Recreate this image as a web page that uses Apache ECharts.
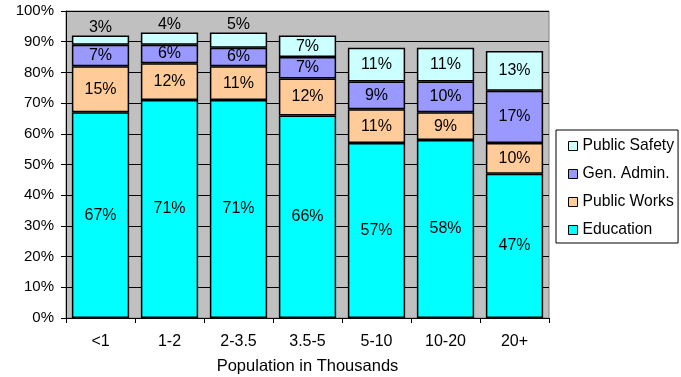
<!DOCTYPE html>
<html>
<head>
<meta charset="utf-8">
<script src="https://cdn.jsdelivr.net/npm/echarts@6/dist/echarts.min.js"></script>
<style>html,body{margin:0;padding:0;background:#fff}#c{width:681px;height:377px}</style>
</head>
<body>
<div id="c"></div>
<script>
var categories = ['<1', '1-2', '2-3.5', '3.5-5', '5-10', '10-20', '20+'];
var education = [67, 71, 71, 66, 57, 58, 47];
var publicWorks = [15, 12, 11, 12, 11, 9, 10];
var genAdmin = [7, 6, 6, 7, 9, 10, 17];
var publicSafety = [3, 4, 5, 7, 11, 11, 13];
var seriesNames = ['Education', 'Public Works', 'Gen. Admin.', 'Public Safety'];
var seriesColors = ['#00ffff', '#ffcc99', '#9999ff', '#ccffff'];
var FONT = 'Liberation Sans';

function makeSeries(name, data, color, smallTop) {
  return {
    name: name,
    type: 'bar',
    stack: 'total',
    barCategoryGap: '17%',
    itemStyle: { color: color, borderColor: '#000', borderWidth: 1.5 },
    label: {
      show: true, position: 'inside', color: '#000', fontSize: 16, fontFamily: FONT,
      formatter: function (p) { return p.value + '%'; }
    },
    data: data.map(function (v) {
      if (smallTop && v <= 5) {
        return { value: v, label: { position: 'top', distance: 0 } };
      }
      return v;
    })
  };
}

var chart = echarts.init(document.getElementById('c'), null, { renderer: 'canvas' });
chart.setOption({
  animation: false,
  textStyle: { fontFamily: FONT },
  grid: {
    left: 66, right: 132, top: 11, bottom: 59,
    containLabel: false, outerBoundsMode: 'none',
    show: true, backgroundColor: '#c0c0c0', borderColor: '#808080', borderWidth: 1
  },
  legend: {
    orient: 'vertical', left: 556, top: 130,
    padding: [8, 4, 5, 12], itemGap: 12,
    borderColor: '#000', borderWidth: 1, backgroundColor: '#fff',
    itemWidth: 9, itemHeight: 9, icon: 'rect',
    itemStyle: { borderColor: '#000', borderWidth: 1 },
    textStyle: { fontSize: 15.7, color: '#000', fontFamily: FONT },
    data: ['Public Safety', 'Gen. Admin.', 'Public Works', 'Education']
  },
  xAxis: {
    type: 'category', data: categories,
    name: 'Population in Thousands', nameLocation: 'middle', nameGap: 40,
    nameTextStyle: { fontSize: 16.5, color: '#000', fontFamily: FONT },
    axisLine: { lineStyle: { color: '#000', width: 1 } },
    axisTick: { show: true, length: 5, lineStyle: { color: '#000' } },
    axisLabel: { fontSize: 16, color: '#000', margin: 16, fontFamily: FONT }
  },
  yAxis: {
    type: 'value', min: 0, max: 100, interval: 10,
    axisLine: { show: true, lineStyle: { color: '#000', width: 1 } },
    axisTick: { show: true, length: 5, lineStyle: { color: '#000' } },
    axisLabel: { fontSize: 15, color: '#000', margin: 12, fontFamily: FONT, formatter: '{value}%' },
    splitLine: { show: true, lineStyle: { color: '#000', width: 1 } }
  },
  series: [
    makeSeries(seriesNames[0], education, seriesColors[0], false),
    makeSeries(seriesNames[1], publicWorks, seriesColors[1], false),
    makeSeries(seriesNames[2], genAdmin, seriesColors[2], false),
    makeSeries(seriesNames[3], publicSafety, seriesColors[3], true)
  ]
});
</script>
</body>
</html>
